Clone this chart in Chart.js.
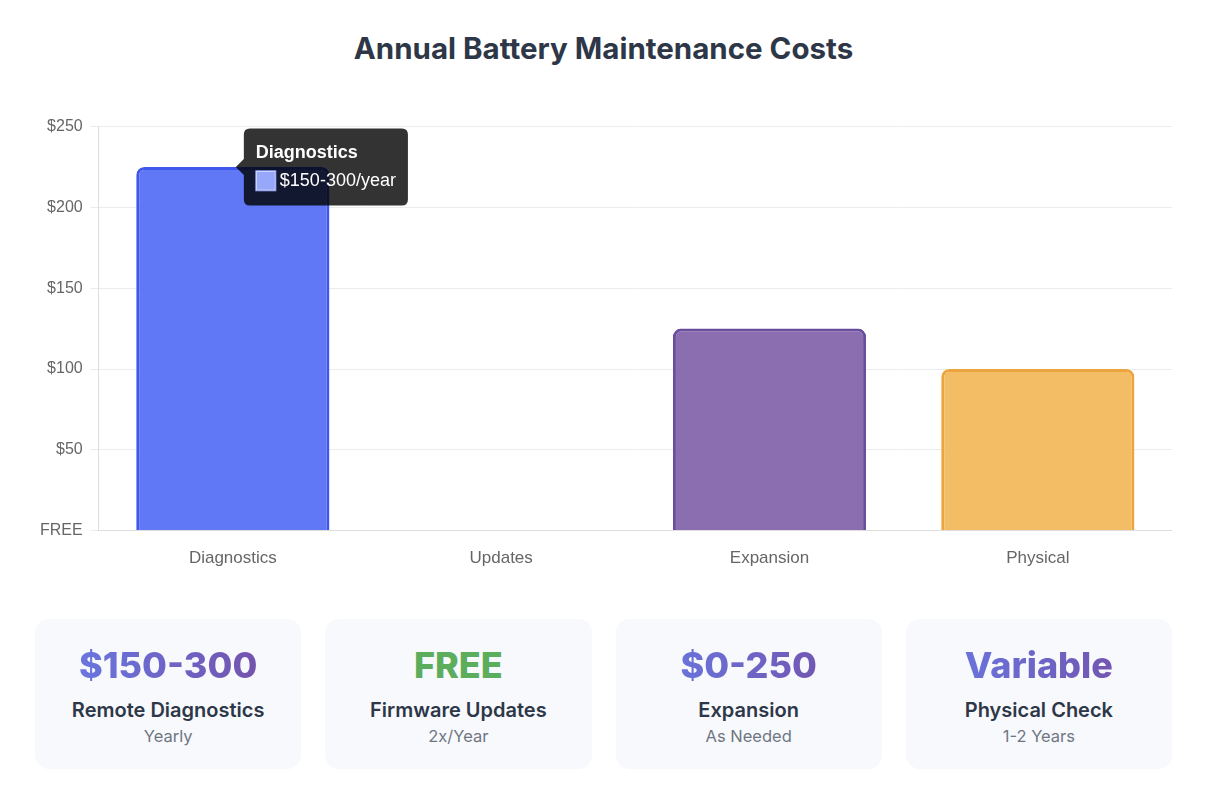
<!DOCTYPE html>
<html>
<head>
<meta charset="utf-8">
<script src="https://cdn.jsdelivr.net/npm/chart.js@4"></script>
<style>
  body { margin: 0; background: #fff; font-family: Inter, "Liberation Sans", sans-serif; }
  .wrap { width: 1137px; margin-left: 35px; }
  h1 { margin: 0; padding-top: 27px; height: 42px; line-height: 42px; text-align: center; font-size: 29.5px; font-weight: 700; color: #2d3748; }
  .chart-box { position: relative; height: 470px; margin-top: 40px; margin-left: -5px; width: calc(100% + 5px); }
  .cards { display: flex; gap: 24px; margin-top: 40px; }
  .card { flex: 1; height: 150px; background: #f7f9fc; border-radius: 14px; text-align: center; box-sizing: border-box; padding-top: 24px; }
  .val { font-size: 36px; font-weight: 800; line-height: 44px; background: linear-gradient(90deg, #667eea, #764ba2); -webkit-background-clip: text; background-clip: text; color: transparent; }
  .val.free { background: none; color: #5cad5c; }
  .name { margin-top: 11px; font-size: 20px; font-weight: 600; color: #2d3748; line-height: 24px; }
  .sub { margin-top: 4px; font-size: 16.5px; color: #6f7683; line-height: 20px; }
</style>
</head>
<body>
<div class="wrap">
  <h1>Annual Battery Maintenance Costs</h1>
  <div class="chart-box"><canvas id="chart"></canvas></div>
  <div class="cards" id="cards"></div>
</div>
<script>
// chart data
const categories = ["Diagnostics", "Updates", "Expansion", "Physical"];
const costValues = [225, 0, 125, 100];
const costLabels = ["$150-300/year", "Free", "$0-250", "Variable"];
const fillColors = ["rgba(82,108,245,0.92)", "rgba(92,173,92,0.85)", "rgba(128,98,168,0.92)", "rgba(242,183,88,0.92)"];
const borderColors = ["#3f57ec", "#4f9a4f", "#6a4d9c", "#eca43e"];

// summary cards
const cardValues = ["$150-300", "FREE", "$0-250", "Variable"];
const cardNames = ["Remote Diagnostics", "Firmware Updates", "Expansion", "Physical Check"];
const cardSubs = ["Yearly", "2x/Year", "As Needed", "1-2 Years"];

const cards = document.getElementById("cards");
cardValues.forEach((v, i) => {
  const c = document.createElement("div");
  c.className = "card";
  c.innerHTML = '<div class="val' + (v === "FREE" ? " free" : "") + '">' + v + '</div>' +
    '<div class="name">' + cardNames[i] + '</div>' +
    '<div class="sub">' + cardSubs[i] + '</div>';
  cards.appendChild(c);
});

const sans = "'Liberation Sans', Arial, sans-serif";

const chart = new Chart(document.getElementById("chart"), {
  type: "bar",
  data: {
    labels: categories,
    datasets: [{
      data: costValues,
      backgroundColor: fillColors,
      borderColor: borderColors,
      hoverBackgroundColor: fillColors,
      hoverBorderColor: borderColors,
      borderWidth: 3,
      borderRadius: 8,
      borderSkipped: "bottom"
    }]
  },
  options: {
    responsive: true,
    maintainAspectRatio: false,
    animation: false,
    layout: { padding: { left: 2, right: 0, top: 8, bottom: 0 } },
    plugins: {
      legend: { display: false },
      tooltip: {
        backgroundColor: "rgba(0,0,0,0.8)",
        titleFont: { family: sans, size: 18, weight: "bold" },
        bodyFont: { family: sans, size: 18 },
        padding: { x: 12, y: 14 },
        cornerRadius: 6,
        caretSize: 8,
        caretPadding: 3,
        boxWidth: 20,
        boxHeight: 20,
        boxPadding: 2,
        callbacks: {
          label: (ctx) => costLabels[ctx.dataIndex],
          labelColor: (ctx) => ({
            borderColor: "rgba(140,158,245,1)",
            backgroundColor: fillColors[ctx.dataIndex].replace(/[\d.]+\)$/, "0.6)")
          })
        }
      }
    },
    scales: {
      x: {
        grid: { display: false },
        border: { color: "#ddd" },
        ticks: { color: "#666", font: { family: sans, size: 17 }, padding: 10 }
      },
      y: {
        min: 0,
        max: 250,
        grid: { color: "#ececec" },
        border: { color: "#ddd" },
        ticks: {
          stepSize: 50,
          color: "#666",
          font: { family: sans, size: 16 },
          padding: 8,
          callback: (v) => v === 0 ? "FREE" : "$" + v
        }
      }
    }
  }
});

// show the tooltip on the first bar, as in the reference
const bar = chart.getDatasetMeta(0).data[0];
chart.setActiveElements([{ datasetIndex: 0, index: 0 }]);
chart.tooltip.setActiveElements([{ datasetIndex: 0, index: 0 }], { x: bar.x, y: bar.y });
chart.update();
</script>
</body>
</html>
